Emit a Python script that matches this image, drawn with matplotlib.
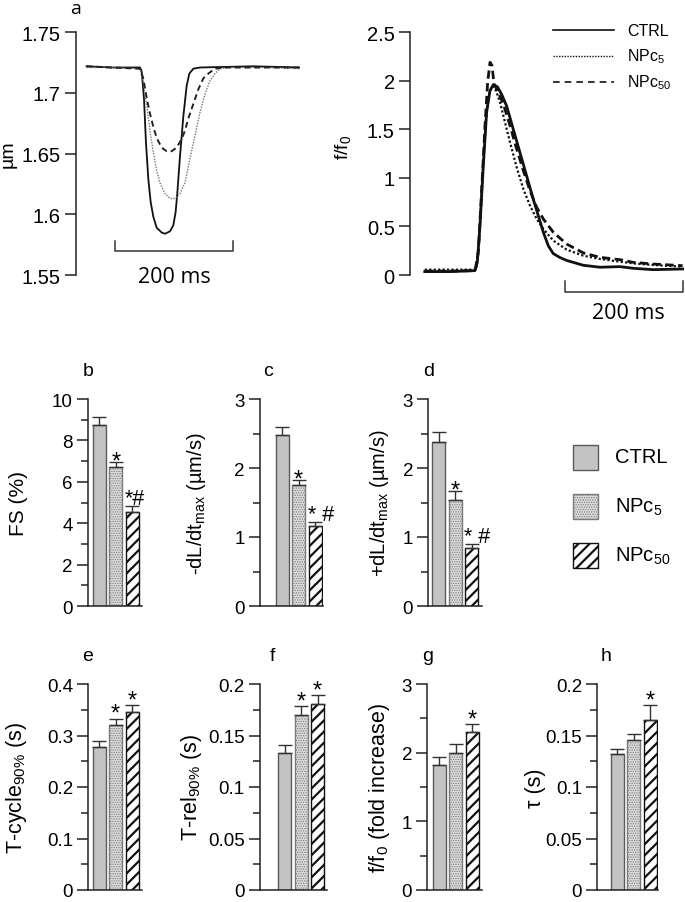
import numpy as np
import matplotlib
matplotlib.use("Agg")
import matplotlib.pyplot as plt
from matplotlib.patches import Rectangle
from matplotlib.lines import Line2D
from matplotlib.ticker import MultipleLocator, FormatStrFormatter

plt.rcParams['font.family'] = ['Liberation Sans', 'DejaVu Sans']
plt.rcParams['mathtext.fontset'] = 'custom'
plt.rcParams['mathtext.rm'] = 'Liberation Sans'
plt.rcParams['mathtext.it'] = 'Liberation Sans:italic'
plt.rcParams['mathtext.default'] = 'regular'
plt.rcParams['hatch.linewidth'] = 1.6

# ---- panel a: sarcomere length traces (time in ms, length in um) ----
sl_ctrl_t = [18, 60, 108.5, 111.3, 115.3, 118.6, 122.6, 126.6, 131.1, 136.7, 145.2, 150.8,
             159.3, 165.0, 168.9, 171.8, 176.3, 182.0, 187.6, 192.1, 198.9, 210.2, 300, 380]
sl_ctrl_v = [1.722, 1.721, 1.721, 1.718, 1.695, 1.659, 1.629, 1.610, 1.598, 1.589, 1.585, 1.584,
             1.586, 1.591, 1.602, 1.618, 1.648, 1.681, 1.706, 1.716, 1.720, 1.721, 1.722, 1.721]
sl_np5_t = [18, 60, 108.5, 114.1, 119.8, 125.4, 131.1, 136.7, 142.4, 150.8, 159.3, 167.8,
            176.3, 184.7, 193.2, 201.7, 210.2, 218.6, 227.1, 235.6, 244.1, 261.0, 320, 380]
sl_np5_v = [1.721, 1.721, 1.720, 1.709, 1.690, 1.669, 1.651, 1.636, 1.626, 1.617, 1.613, 1.613,
            1.617, 1.626, 1.646, 1.665, 1.684, 1.699, 1.710, 1.716, 1.720, 1.721, 1.721, 1.720]
sl_np50_t = [18, 60, 108.5, 114.1, 119.8, 125.4, 131.1, 136.7, 145.2, 153.7, 162.1, 170.6,
             179.1, 184.7, 190.4, 198.9, 207.3, 215.8, 224.3, 235.6, 249.7, 320, 380]
sl_np50_v = [1.722, 1.721, 1.720, 1.712, 1.696, 1.683, 1.672, 1.663, 1.655, 1.652, 1.652, 1.655,
             1.662, 1.669, 1.679, 1.691, 1.703, 1.712, 1.716, 1.720, 1.721, 1.721, 1.721]

# ---- panel a: calcium transients (time in ms, f/f0) ----
ca_ctrl_t = [25, 67.8, 110.2, 114.1, 118.6, 124.3, 129.9, 135.6, 141.2, 148.0, 155.4, 163.8,
             175.1, 186.4, 197.7, 209.0, 217.5, 226.0, 234.5, 242.9, 254.2, 265.5, 293.8,
             322.0, 355.9, 378.5, 412.4, 462.1]
ca_ctrl_v = [0.035, 0.035, 0.045, 0.13, 0.51, 1.13, 1.68, 1.90, 1.96, 1.94, 1.86, 1.74,
             1.50, 1.26, 1.02, 0.78, 0.61, 0.44, 0.30, 0.22, 0.18, 0.15, 0.10,
             0.08, 0.086, 0.069, 0.055, 0.062]
ca_np5_t = [25, 67.8, 111.9, 117.5, 123.2, 128.8, 134.5, 140.1, 145.8, 152.5, 161.0, 169.5,
            180.8, 192.1, 203.4, 214.7, 226.0, 242.9, 265.5, 293.8, 322.0, 355.9, 378.5,
            412.4, 462.1]
ca_np5_v = [0.055, 0.055, 0.055, 0.371, 1.058, 1.607, 1.882, 1.944, 1.899, 1.779, 1.573, 1.367,
            1.109, 0.886, 0.714, 0.577, 0.474, 0.354, 0.261, 0.199, 0.165, 0.137, 0.120,
            0.103, 0.086]
ca_np50_t = [25, 67.8, 110.2, 115.8, 121.5, 127.1, 131.6, 135.6, 139.0, 142.4, 146.9, 158.2,
             169.5, 180.8, 192.1, 203.4, 214.7, 226.0, 242.9, 265.5, 293.8, 322.0, 355.9,
             378.5, 412.4, 462.1]
ca_np50_v = [0.04, 0.04, 0.045, 0.234, 0.886, 1.538, 1.985, 2.191, 2.157, 1.968, 1.916, 1.762,
             1.538, 1.298, 1.075, 0.869, 0.697, 0.577, 0.440, 0.319, 0.227, 0.182, 0.158,
             0.130, 0.113, 0.096]

# ---- bar panels b-h ----
groups = ['CTRL', 'NPc$_5$', 'NPc$_{50}$']
fs_mean = [8.75, 6.70, 4.56]
fs_err = [0.37, 0.28, 0.29]
neg_dldt_mean = [2.48, 1.75, 1.16]
neg_dldt_err = [0.11, 0.08, 0.06]
pos_dldt_mean = [2.37, 1.54, 0.84]
pos_dldt_err = [0.15, 0.13, 0.06]
tcycle_mean = [0.278, 0.320, 0.346]
tcycle_err = [0.011, 0.013, 0.013]
trel_mean = [0.133, 0.170, 0.181]
trel_err = [0.008, 0.0085, 0.0085]
peak_mean = [1.82, 2.00, 2.30]
peak_err = [0.11, 0.12, 0.12]
tau_mean = [0.132, 0.1455, 0.165]
tau_err = [0.005, 0.0055, 0.0145]
sig_bcd = ['', '*', '*#']
sig_cd = ['', '*', '* #']
sig_e = ['', '*', '*']
sig_g = ['', '', '*']

W, H = 685, 903
fig = plt.figure(figsize=(6.85, 9.03), dpi=100)


def px_axes(left, top, right, bottom):
    return fig.add_axes([left / W, 1 - bottom / H, (right - left) / W, (bottom - top) / H])


def fx(x):
    return x / W


def fy(y):
    return 1 - y / H


def clean(ax, bottom=True):
    for s in ['top', 'right']:
        ax.spines[s].set_visible(False)
    ax.spines['bottom'].set_visible(bottom)
    for s in ['left', 'bottom']:
        ax.spines[s].set_linewidth(1.1)
        ax.spines[s].set_color('#222222')
    ax.set_xticks([])
    ax.tick_params(axis='y', which='major', length=8, width=1.1, pad=3, color='#222222')
    ax.tick_params(axis='y', which='minor', length=5, width=1.1, color='#222222')


# ---------- panel a, left: sarcomere shortening ----------
ax1 = px_axes(76, 33.3, 300, 276)
ax1.plot(sl_ctrl_t, sl_ctrl_v, color='#111111', lw=1.3)
ax1.plot(sl_np5_t, sl_np5_v, color='#777777', lw=1.0, ls=(0, (1, 1)))
ax1.plot(sl_np50_t, sl_np50_v, color='#222222', lw=1.4, ls=(0, (3, 2)))
ax1.set_xlim(0, 379.7)
ax1.set_ylim(1.55, 1.75)
clean(ax1, bottom=False)
ax1.set_yticks([1.55, 1.6, 1.65, 1.7, 1.75])
ax1.set_yticklabels(['1.55', '1.6', '1.65', '1.7', '1.75'], fontsize=14.5)
ax1.set_ylabel('µm', fontsize=14, va='center')
ax1.yaxis.set_label_coords((8 - 76) / 224, 0.5)
ax1.plot([66, 66, 266, 266], [1.578, 1.570, 1.570, 1.578], color='#333333', lw=1.1, clip_on=False)
ax1.text(166, 1.549, '200 ms', ha='center', va='center', fontsize=15.5,
         family=['Open Sans', 'DejaVu Sans'])

# ---------- panel a, right: calcium transients ----------
ax2 = px_axes(410, 33.3, 685, 276)
ax2.plot(ca_ctrl_t, ca_ctrl_v, color='#111111', lw=2.0)
ax2.plot(ca_np5_t, ca_np5_v, color='#111111', lw=1.6, ls=(0, (1, 1)))
ax2.plot(ca_np50_t, ca_np50_v, color='#111111', lw=2.0, ls=(0, (3, 1.6)))
ax2.set_xlim(0, 466.1)
ax2.set_ylim(0, 2.5)
clean(ax2, bottom=False)
ax2.set_yticks([0, 0.5, 1, 1.5, 2, 2.5])
ax2.set_yticklabels(['0', '0.5', '1', '1.5', '2', '2.5'], fontsize=14.5)
ax2.set_ylabel('f/f$_0$', fontsize=14, va='center')
ax2.yaxis.set_label_coords((343 - 410) / 275, 0.53)
ax2.plot([263, 263, 463, 463], [-0.06, -0.175, -0.175, -0.06], color='#333333', lw=1.1, clip_on=False)
ax2.text(370, -0.385, '200 ms', ha='center', va='center', fontsize=15.5,
         family=['Open Sans', 'DejaVu Sans'])

fig.text(fx(76), fy(9), 'a', ha='center', va='center', fontsize=14,
         family=['Open Sans', 'DejaVu Sans'])

# line legend
leg_styles = [dict(color='#111111', lw=1.2),
              dict(color='#111111', lw=1.0, ls=(0, (1, 1))),
              dict(color='#111111', lw=1.2, ls=(0, (4, 3)))]
for i, (lab, st) in enumerate(zip(groups, leg_styles)):
    yy = [31, 57, 83][i]
    fig.add_artist(Line2D([fx(553), fx(614)], [fy(yy), fy(yy)], transform=fig.transFigure, **st))
    fig.text(fx(627), fy(yy), lab, ha='left', va='center', fontsize=11.5)

# ---------- bar panels ----------
UNIT = 16.5
BAR_W = 13 / UNIT
face = ['#c3c3c3', '#dcdcdc', 'white']
edge = ['#5a5a5a', '#7a7a7a', '#111111']
hatch = [None, '.......', '///']


def bar_panel(spine, c0, end, top, bottom, mean, err, ymax, major, minor,
              sig, ylabel, label_x, letter, letter_x, fsize, lsize, sig_off):
    ax = px_axes(spine, top, end, bottom)
    x = np.arange(3)
    bars = ax.bar(x, mean, width=BAR_W, color=face, edgecolor=edge, linewidth=1.0, zorder=2)
    for b, h in zip(bars, hatch):
        if h:
            b.set_hatch(h)
    if hasattr(bars[1], 'set_hatch_linewidth'):
        bars[1].set_hatch_linewidth(0.6)
        bars[2].set_hatch_linewidth(1.6)
    ax.errorbar(x, mean, yerr=[np.zeros(3), err], fmt='none', ecolor='#333333',
                elinewidth=1.0, capsize=4.8, capthick=1.0, zorder=3)
    ax.set_xlim(-(c0 - spine) / UNIT, (end - c0) / UNIT)
    ax.set_ylim(0, ymax)
    clean(ax)
    ax.yaxis.set_major_locator(MultipleLocator(major))
    ax.yaxis.set_minor_locator(MultipleLocator(minor))
    ax.yaxis.set_major_formatter(FormatStrFormatter('%g'))
    ax.tick_params(axis='y', labelsize=fsize)
    for i, s in enumerate(sig):
        if not s:
            continue
        yb = mean[i] + err[i]
        if '#' in s:
            ax.annotate(s, (x[i] - 0.45, yb), xytext=(0, 1.5), textcoords='offset points',
                        ha='left', va='baseline', fontsize=15.5)
        else:
            ax.annotate(s, (x[i], yb), xytext=(0, sig_off), textcoords='offset points',
                        ha='center', va='baseline', fontsize=17)
    ax.set_ylabel(ylabel, fontsize=lsize, va='center')
    ax.yaxis.set_label_coords((label_x - spine) / (end - spine), 0.5)
    fig.text(fx(letter_x), fy(top - 28), letter, ha='center', va='center', fontsize=14)
    return ax


r1t, r1b = 400, 607
r2t, r2b = 685, 891
bar_panel(88, 99.3, 141.7, r1t, r1b, fs_mean, fs_err, 10, 2, 1, sig_bcd,
          'FS (%)', 19, 'b', 88.5, 13.5, 15, -4)
bar_panel(260, 282.2, 323.3, r1t, r1b, neg_dldt_mean, neg_dldt_err, 3, 1, 0.5, sig_cd,
          '-dL/dt$_{max}$ (µm/s)', 197, 'c', 267.5, 13.5, 14.5, -4)
bar_panel(428.3, 438.7, 481.7, r1t, r1b, pos_dldt_mean, pos_dldt_err, 3, 1, 0.5, sig_cd,
          '+dL/dt$_{max}$ (µm/s)', 379, 'd', 429, 13.5, 14.5, -4)
bar_panel(88.3, 99, 141.7, r2t, r2b, tcycle_mean, tcycle_err, 0.4, 0.1, 0.05, sig_e,
          'T-cycle$_{90\\%}$ (s)', 17, 'e', 88, 13.5, 15.5, -1)
bar_panel(260, 284.5, 326.7, r2t, r2b, trel_mean, trel_err, 0.2, 0.05, 0.025, sig_e,
          'T-rel$_{90\\%}$ (s)', 192, 'f', 272.7, 13.5, 15.5, -1)
bar_panel(427.3, 439, 481.7, r2t, r2b, peak_mean, peak_err, 3, 1, 0.5, sig_g,
          'f/f$_0$ (fold increase)', 379, 'g', 428, 13.5, 15.5, -1)
bar_panel(597.3, 617, 658.3, r2t, r2b, tau_mean, tau_err, 0.2, 0.05, 0.025, sig_g,
          'τ (s)', 535, 'h', 605.7, 13.5, 15.5, -1)

# bar legend
for i, lab in enumerate(groups):
    yc = [458, 507, 556][i]
    r = Rectangle((fx(573), fy(yc + 12.5)), 25 / W, 25 / H, transform=fig.transFigure,
                  facecolor=face[i], edgecolor=edge[i], linewidth=1.0, hatch=hatch[i])
    if hasattr(r, 'set_hatch_linewidth'):
        r.set_hatch_linewidth([1.6, 0.6, 1.6][i])
    fig.add_artist(r)
    fig.text(fx(615), fy(yc), lab, ha='left', va='center', fontsize=14.5)

fig.savefig('out.png', dpi=100)
